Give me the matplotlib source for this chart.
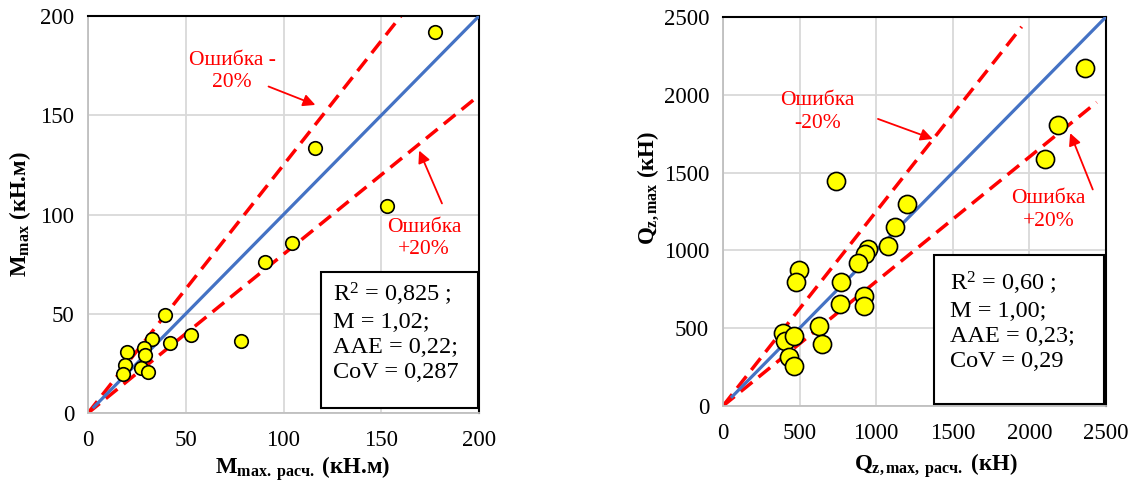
import matplotlib
matplotlib.use('Agg')
import matplotlib.pyplot as plt
from matplotlib.patches import Rectangle

plt.rcParams['font.family'] = ['Liberation Serif', 'DejaVu Serif']
plt.rcParams['mathtext.fontset'] = 'custom'
plt.rcParams['mathtext.rm'] = 'Liberation Serif'
plt.rcParams['mathtext.it'] = 'Liberation Serif:italic'
plt.rcParams['mathtext.bf'] = 'Liberation Serif:bold'

# left chart: moments
m_calc = [177.5, 116.0, 152.7, 104.1, 90.6, 78.0, 52.6, 39.6, 42.0, 32.8,
          28.5, 29.0, 19.8, 18.8, 17.9, 27.3, 30.9]
m_test = [191.8, 133.6, 104.5, 85.6, 76.0, 36.1, 39.4, 49.5, 35.2, 37.4,
          32.7, 29.4, 30.5, 24.3, 19.6, 22.7, 20.6]
m_stats = ['R$^2$ = 0,825 ;', 'M = 1,02;', 'AAE = 0,22;', 'CoV = 0,287']

# right chart: shear forces
q_calc = [2361, 2190, 2105, 738, 1201, 1124, 1077, 947, 929, 880, 772, 496,
          478, 921, 921, 765, 627, 646, 389, 402, 467, 428, 461]
q_test = [2171, 1808, 1586, 1447, 1300, 1150, 1025, 1006, 974, 920, 797, 877,
          797, 705, 644, 656, 515, 397, 468, 418, 450, 317, 256]
q_stats = ['R$^2$ = 0,60 ;', 'M = 1,00;', 'AAE = 0,23;', 'CoV = 0,29']

fig = plt.figure(figsize=(11.36, 4.84), dpi=100)
ax1 = fig.add_axes([0.0775, 0.1467, 0.3442, 0.8202])
ax2 = fig.add_axes([0.6364, 0.1612, 0.3371, 0.8037])

blue = '#4472C4'
red = '#FF0000'
dash = (0, (4.3, 2.3))


def setup(ax, lim, step):
    ax.set_xlim(0, lim)
    ax.set_ylim(0, lim)
    ax.set_xticks(range(0, lim + 1, step))
    ax.set_yticks(range(0, lim + 1, step))
    ax.grid(True, color='#D9D9D9', lw=1.3)
    ax.set_axisbelow(True)
    ax.tick_params(length=0, labelsize=16.5)
    ax.tick_params(axis='x', pad=12)
    ax.tick_params(axis='y', pad=10)
    for s in ['left', 'bottom']:
        ax.spines[s].set_color('#BFBFBF')
        ax.spines[s].set_linewidth(1.3)
    for s in ['top', 'right']:
        ax.spines[s].set_color('black')
        ax.spines[s].set_linewidth(1.5)


def statbox(ax, x0, y0, w, h, dx, dy, lines):
    ax.add_patch(Rectangle((x0, y0), w, h, transform=ax.transAxes,
                           facecolor='white', edgecolor='black', lw=1.5,
                           zorder=5))
    ax.text(x0 + dx, y0 + h - dy, '\n'.join(lines),
            transform=ax.transAxes, fontsize=17.5, va='top', ha='left',
            linespacing=1.25, zorder=6)


# ---- left
setup(ax1, 200, 50)
ax1.plot([0, 160], [0, 200], color=red, lw=2.5, ls=dash, zorder=2)
ax1.plot([0, 200], [0, 160], color=red, lw=2.5, ls=dash, zorder=2)
ax1.plot([3, 200], [3, 200], color=blue, lw=2.3, zorder=3)
ax1.scatter(m_calc, m_test, s=95, color='#FFFF00', edgecolor='black',
            lw=1.2, zorder=4, clip_on=False)
statbox(ax1, 0.596, 0.013, 0.401, 0.342, 0.031, 0.022, m_stats)
ax1.annotate('', xy=(117.6, 154.7), xytext=(91, 165),
             arrowprops=dict(arrowstyle='-|>', color=red, lw=1.3,
                             mutation_scale=18))
ax1.text(73.7, 172, 'Ошибка -\n20%', color=red, fontsize=15.5,
         ha='center', va='center', linespacing=1.25)
ax1.annotate('', xy=(168.8, 133.5), xytext=(181.6, 104.3),
             arrowprops=dict(arrowstyle='-|>', color=red, lw=1.3,
                             mutation_scale=18))
ax1.text(171.9, 88, 'Ошибка\n+20%', color=red, fontsize=15.5,
         ha='center', va='center', linespacing=1.25)
ax1.set_xlabel(r'M$_{\mathbf{max.\ расч.}}$ (кН.м)', fontsize=16.5,
               fontweight='bold')
ax1.set_ylabel(r'M$_{\mathbf{max}}$ (кН.м)', fontsize=16.5,
               fontweight='bold')
ax1.xaxis.set_label_coords(0.55, -0.104)
ax1.yaxis.set_label_coords(-0.14, 0.5)

# ---- right
setup(ax2, 2500, 500)
ax2.plot([0, 1950], [0, 2437], color=red, lw=2.5, ls=dash, zorder=2)
ax2.plot([0, 2440], [0, 1952], color=red, lw=2.5, ls=dash, zorder=2)
ax2.plot([60, 2500], [60, 2500], color=blue, lw=2.3, zorder=3)
ax2.scatter(q_calc, q_test, s=170, color='#FFFF00', edgecolor='black',
            lw=1.2, zorder=4)
statbox(ax2, 0.551, 0.005, 0.444, 0.383, 0.042, 0.038, q_stats)
ax2.annotate('', xy=(1387, 1710), xytext=(995, 1851),
             arrowprops=dict(arrowstyle='-|>', color=red, lw=1.3,
                             mutation_scale=18))
ax2.text(615, 1890, 'Ошибка\n-20%', color=red, fontsize=15.5,
         ha='center', va='center', linespacing=1.25)
ax2.annotate('', xy=(2260, 1770), xytext=(2421, 1375),
             arrowprops=dict(arrowstyle='-|>', color=red, lw=1.3,
                             mutation_scale=18))
ax2.text(2127, 1260, 'Ошибка\n+20%', color=red, fontsize=15.5,
         ha='center', va='center', linespacing=1.25)
ax2.set_xlabel(r'Q$_{\mathbf{z,max,\ расч.}}$ (кН)', fontsize=16.5,
               fontweight='bold')
ax2.set_ylabel(r'Q$_{\mathbf{z,max}}$ (кН)', fontsize=16.5,
               fontweight='bold')
ax2.xaxis.set_label_coords(0.557, -0.115)
ax2.yaxis.set_label_coords(-0.163, 0.56)

fig.savefig('out.png', dpi=100)
